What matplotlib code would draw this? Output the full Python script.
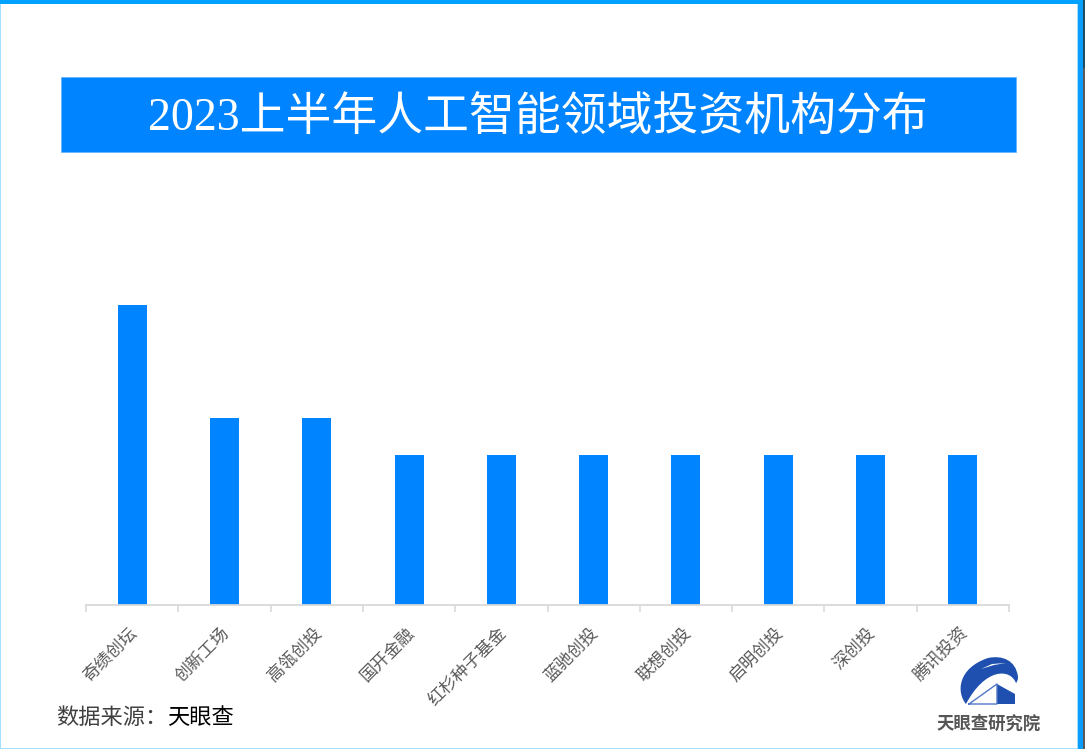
import matplotlib
matplotlib.use("Agg")
import matplotlib.pyplot as plt
from matplotlib.patches import PathPatch, Polygon, Rectangle
from matplotlib.path import Path

plt.rcParams['font.family'] = ['Liberation Serif', 'Noto Sans CJK SC', 'DejaVu Sans']

# Datos
instituciones = ["奇绩创坛", "创新工场", "高瓴创投", "国开金融", "红杉种子基金",
                 "蓝驰创投", "联想创投", "启明创投", "深创投", "腾讯投资"]
valores = [8, 5, 5, 4, 4, 4, 4, 4, 4, 4]
titulo = "2023上半年人工智能领域投资机构分布"
fuente = "数据来源："
fuente_nombre = "天眼查"
marca = "天眼查研究院"

W, H = 1085, 749
AZUL = "#0084FF"
fig = plt.figure(figsize=(W / 100, H / 100), dpi=100)

# Capa de fondo en pixeles: marco, banner, fuente y logo
bg = fig.add_axes([0, 0, 1, 1])
bg.set_xlim(0, W)
bg.set_ylim(H, 0)
bg.axis("off")

bg.add_patch(Rectangle((0, 0), W, 4, color="#00A2FF", lw=0))
bg.add_patch(Rectangle((0, 4), 1.2, H, color="#A6DFFF", lw=0))
bg.add_patch(Rectangle((0, 747.6), 1078, 1.4, color="#A6DFFF", lw=0))
bg.add_patch(Rectangle((1077, 4), 1.2, H, color="#A6DFFF", lw=0))
bg.add_patch(Rectangle((1078, 4), 5, H, color="#0A9CFF", lw=0))
bg.add_patch(Rectangle((1083, 0), 2, 68, color="#1F4E63", lw=0))
bg.add_patch(Rectangle((1083, 68), 2, H, color="#5A5A5A", lw=0))

bg.add_patch(Rectangle((61, 77), 955, 75, facecolor=AZUL, edgecolor="#66B5FF", lw=0.6))
bg.text(538, 118, titulo, color="white", fontsize=33, ha="center", va="center")

bg.text(56, 719, fuente, color="#404040", fontsize=16, ha="left", va="center")
bg.text(167, 719, fuente_nombre, color="black", fontsize=16, ha="left", va="center")

# Logo
LOGO = "#1F50B0"
codes = [Path.MOVETO, Path.CURVE4, Path.CURVE4, Path.CURVE4,
         Path.CURVE4, Path.CURVE4, Path.CURVE4,
         Path.CURVE4, Path.CURVE4, Path.CURVE4,
         Path.CURVE4, Path.CURVE4, Path.CURVE4, Path.CLOSEPOLY]
verts = [(966, 704), (956, 692), (958, 668), (988, 658),
         (1002, 655), (1016, 660), (1018, 677),
         (1018, 680), (1017, 682), (1016, 683),
         (1010, 668), (985, 668), (966, 704), (966, 704)]
bg.add_patch(PathPatch(Path(verts, codes), facecolor=LOGO, edgecolor="none"))
bg.add_patch(Polygon([(981, 669), (992, 664), (1006, 663), (994, 665)], facecolor="white", edgecolor="none"))
bg.add_patch(Polygon([(997, 684), (1015, 694), (1015, 704), (997, 704)], facecolor=LOGO, edgecolor="none"))
bg.plot([969, 997, 997, 969], [704, 684, 704, 704], color="#4F78C8", lw=1.0)
bg.text(989, 724, marca, color="#555555", fontsize=12.5, fontweight="bold",
        family=['Noto Sans CJK SC'], ha="center", va="center")

# Grafica de barras
ax = fig.add_axes([86 / W, 1 - 605 / H, 923 / W, 300 / H])
ax.patch.set_alpha(0)
x = range(len(instituciones))
ax.bar(x, valores, width=0.315, color=AZUL)
ax.set_xlim(-0.5, len(instituciones) - 0.5)
ax.set_ylim(0, 8)
ax.set_yticks([])
for lado in ["top", "left", "right"]:
    ax.spines[lado].set_visible(False)
ax.spines["bottom"].set_color("#D9D9D9")
ax.spines["bottom"].set_linewidth(1.3)

ax.set_xticks([i - 0.5 for i in range(len(instituciones) + 1)])
ax.set_xticklabels([])
ax.tick_params(axis="x", length=5, width=1.2, color="#D9D9D9")

for i, nombre in enumerate(instituciones):
    ax.annotate(nombre, xy=(i, 0), xycoords=("data", "axes fraction"),
                xytext=(-2, -14.5), textcoords="offset points",
                rotation=45, ha="right", va="top", rotation_mode="anchor",
                fontsize=12.3, color="#595959")

fig.savefig("out.png", dpi=100)
